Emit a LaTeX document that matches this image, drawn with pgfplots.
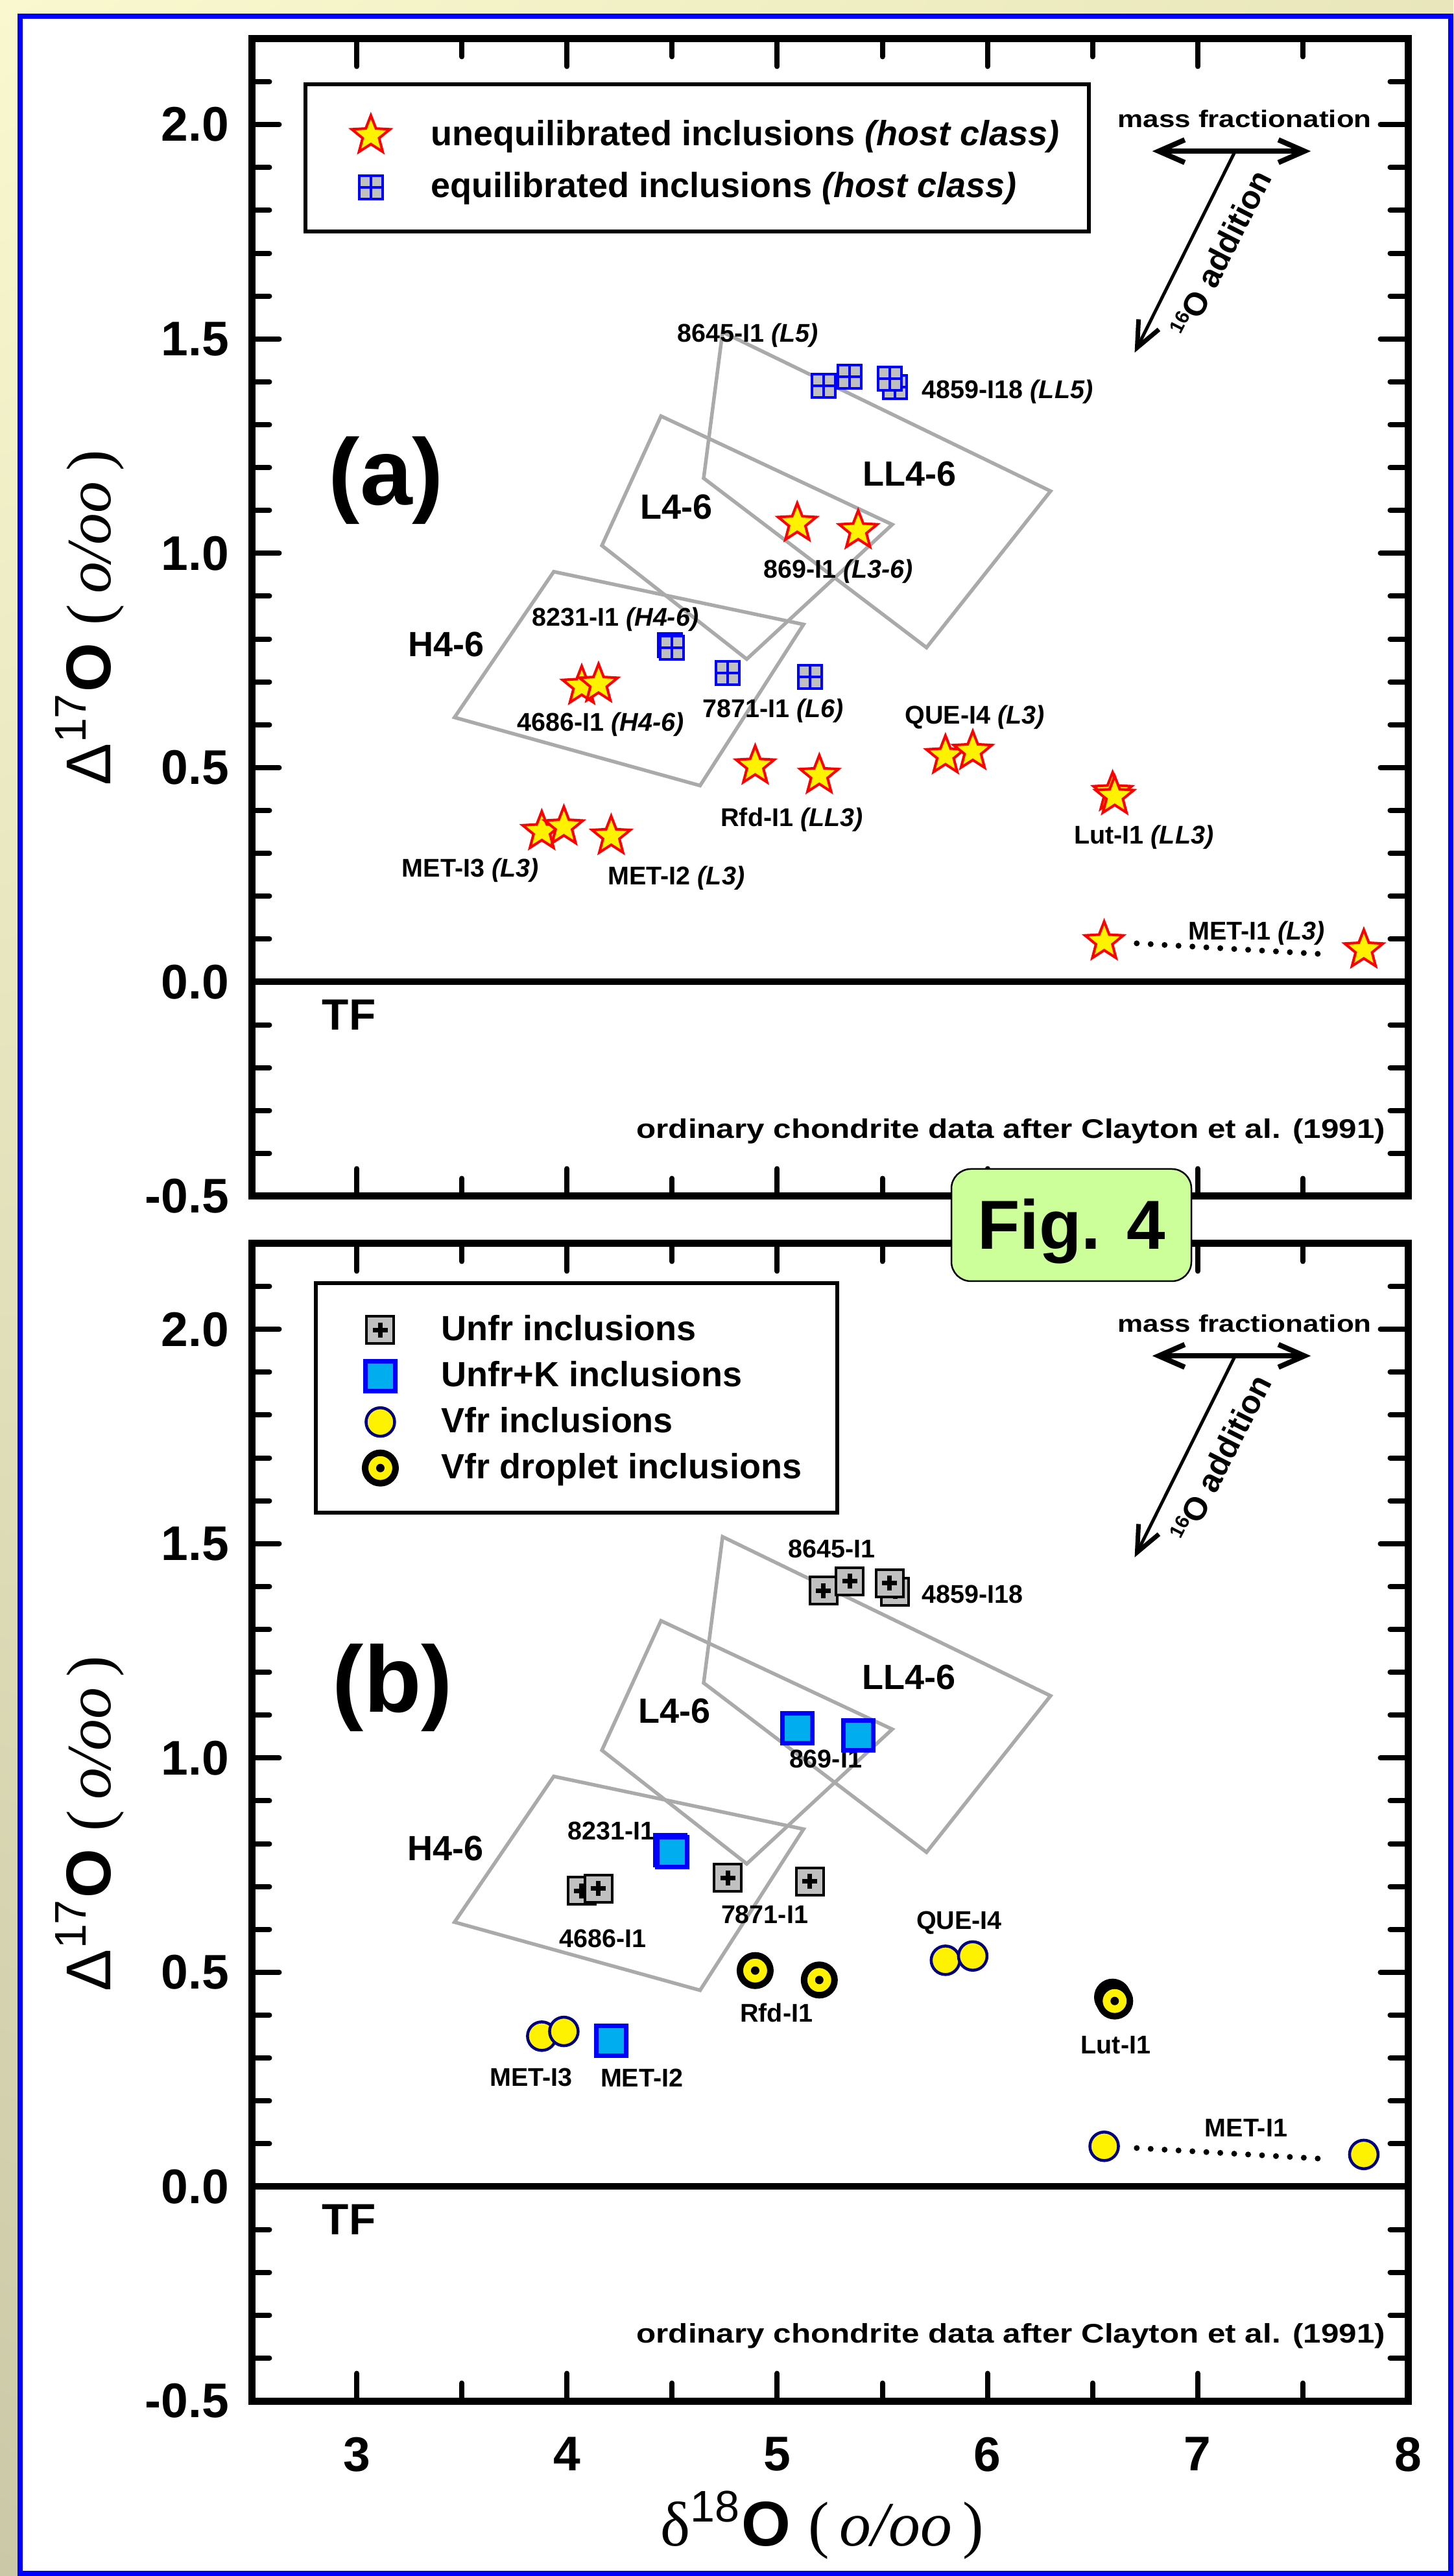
\documentclass[border=0pt]{standalone}
\usepackage{fontspec}
\setmainfont{Liberation Sans}
\newfontfamily\serif{Liberation Serif}
\usepackage{graphicx}
\usepackage{pgfplots}
\pgfplotsset{compat=1.18}
\usetikzlibrary{arrows.meta,shadings}

\definecolor{polygray}{RGB}{170,170,170}
\definecolor{markgray}{RGB}{192,192,192}
\definecolor{figgreen}{RGB}{204,255,153}
\definecolor{bgA}{RGB}{250,248,206}
\definecolor{bgB}{RGB}{232,230,186}
\definecolor{bgC}{RGB}{202,200,166}
\definecolor{bgD}{RGB}{220,218,180}
\definecolor{navyb}{RGB}{0,0,128}

\pgfdeclareplotmark{fstar}{%
  \pgfpathmoveto{\pgfpointpolar{90}{\pgfplotmarksize}}%
  \pgfpathlineto{\pgfpointscale{0.43}{\pgfpointpolar{126}{\pgfplotmarksize}}}%
  \pgfpathlineto{\pgfpointpolar{162}{\pgfplotmarksize}}%
  \pgfpathlineto{\pgfpointscale{0.43}{\pgfpointpolar{198}{\pgfplotmarksize}}}%
  \pgfpathlineto{\pgfpointpolar{234}{\pgfplotmarksize}}%
  \pgfpathlineto{\pgfpointscale{0.43}{\pgfpointpolar{270}{\pgfplotmarksize}}}%
  \pgfpathlineto{\pgfpointpolar{306}{\pgfplotmarksize}}%
  \pgfpathlineto{\pgfpointscale{0.43}{\pgfpointpolar{342}{\pgfplotmarksize}}}%
  \pgfpathlineto{\pgfpointpolar{18}{\pgfplotmarksize}}%
  \pgfpathlineto{\pgfpointscale{0.43}{\pgfpointpolar{54}{\pgfplotmarksize}}}%
  \pgfpathclose
  \pgfusepathqfillstroke
}
\pgfdeclareplotmark{eqsq}{%
  \pgfpathrectanglecorners{\pgfqpoint{-\pgfplotmarksize}{-\pgfplotmarksize}}{\pgfqpoint{\pgfplotmarksize}{\pgfplotmarksize}}%
  \pgfusepathqfillstroke
  \pgfpathmoveto{\pgfqpoint{0pt}{-\pgfplotmarksize}}%
  \pgfpathlineto{\pgfqpoint{0pt}{\pgfplotmarksize}}%
  \pgfpathmoveto{\pgfqpoint{-\pgfplotmarksize}{0pt}}%
  \pgfpathlineto{\pgfqpoint{\pgfplotmarksize}{0pt}}%
  \pgfusepathqstroke
}
\pgfdeclareplotmark{unfr}{%
  \pgfpathrectanglecorners{\pgfqpoint{-\pgfplotmarksize}{-\pgfplotmarksize}}{\pgfqpoint{\pgfplotmarksize}{\pgfplotmarksize}}%
  \pgfusepathqfillstroke
  \begin{pgfscope}%
  \pgfsetlinewidth{1.4pt}\pgfsetbuttcap
  \pgfpathmoveto{\pgfqpoint{0pt}{-2.3pt}}%
  \pgfpathlineto{\pgfqpoint{0pt}{2.3pt}}%
  \pgfpathmoveto{\pgfqpoint{-2.3pt}{0pt}}%
  \pgfpathlineto{\pgfqpoint{2.3pt}{0pt}}%
  \pgfusepathqstroke
  \end{pgfscope}%
}
\pgfdeclareplotmark{drop}{%
  \pgfpathcircle{\pgfpointorigin}{\pgfplotmarksize}%
  \pgfusepathqfillstroke
  \begin{pgfscope}%
  \pgfsetfillcolor{black}%
  \pgfpathcircle{\pgfpointorigin}{1.3pt}%
  \pgfusepathqfill
  \end{pgfscope}%
}

\tikzset{
  lbl/.style={font=\fontsize{7.9}{9}\selectfont\bfseries, inner sep=0pt, anchor=base, yshift=-2.83pt},
  lblw/.style={lbl, anchor=base west},
  big/.style={font=\fontsize{10.8}{12}\selectfont\bfseries, inner sep=0pt, anchor=base, yshift=-3.87pt},
  tf/.style={font=\fontsize{13.5}{15}\selectfont\bfseries, inner sep=0pt, anchor=base, yshift=-4.83pt},
  panlbl/.style={font=\fontsize{29}{32}\selectfont\bfseries, inner sep=0pt},
  barb/.style={line width=1.6pt, {Straight Barb[length=8pt,width=7pt]}-{Straight Barb[length=8pt,width=7pt]}},
  sbarb/.style={line width=1pt, -{Straight Barb[length=8pt,width=7pt,line width=1.4pt]}},
}

\pgfplotsset{
  panel/.style={
    scale only axis, width=356.6pt, height=357pt, anchor=south west,
    xmin=2.5, xmax=8, ymin=-0.5, ymax=2.2,
    xtick={3,4,5,6,7,8}, minor xtick={3.5,4.5,5.5,6.5,7.5},
    ytick={-0.5,0,0.5,1,1.5,2},
    minor ytick={-0.4,-0.3,-0.2,-0.1,0.1,0.2,0.3,0.4,0.6,0.7,0.8,0.9,1.1,1.2,1.3,1.4,1.6,1.7,1.8,1.9,2.1},
    tick align=inside, major tick length=8.5pt, minor tick length=5.5pt,
    every tick/.style={black, line width=1.6pt, line cap=round},
    axis line style={line width=2.2pt},
    /pgf/number format/assume math mode=true,
    tick label style={font=\fontsize{15}{18}\selectfont\bfseries},
    yticklabel style={/pgf/number format/fixed, /pgf/number format/fixed zerofill, /pgf/number format/precision=1, xshift=-3.5pt},
    legend cell align=left,
    clip=false,
  },
}

\newcommand{\ylab}{\fontsize{19.5}{22}\selectfont Δ\textsuperscript{17}\textbf{O} {\serif(\,\textit{o/oo}\,)}}
\newcommand{\xlab}{\fontsize{19.5}{22}\selectfont {\serif δ}\textsuperscript{18}\textbf{O} {\serif(\,\textit{o/oo}\,)}}
\newcommand{\sixteen}{{\fontsize{6}{7}\selectfont\raisebox{3.2pt}{16}}{\fontsize{10}{11}\selectfont O} addition}

\begin{document}
\begin{tikzpicture}
\shade[upper left=bgA, upper right=bgB, lower left=bgC, lower right=bgD] (0,0) rectangle (448.2pt,794.6pt);
\draw[blue, line width=1.6pt, fill=white] (6.2pt,0.8pt) rectangle (447.4pt,789.6pt);

% ---------------- panel (a)
\begin{axis}[panel, at={(77.6pt,425.6pt)}, xticklabels={},
  legend style={draw=none, fill=none, at={(0.0745,0.9367)}, anchor=north west,
    inner xsep=0pt, inner ysep=0pt, row sep=2pt, column sep=8.6pt,
    font=\fontsize{10.8}{13}\selectfont\bfseries, nodes={inner sep=0pt}},
  legend image code/.code={\path[draw=none, fill=none] (-10pt,-7pt) rectangle (10pt,7pt); \draw[#1] plot coordinates {(0pt,0pt)};},
]
\draw[line width=1.2pt, fill=white] (axis cs:2.756,2.094) rectangle (axis cs:6.482,1.751);
\addplot[polygray, line width=1.1pt, forget plot] coordinates {(4.74,1.516) (6.30,1.145) (5.71,0.78) (4.65,1.175)} -- cycle;
\addplot[polygray, line width=1.1pt, forget plot] coordinates {(4.447,1.32) (5.547,1.067) (4.855,0.753) (4.166,1.018)} -- cycle;
\addplot[polygray, line width=1.1pt, forget plot] coordinates {(3.465,0.617) (3.937,0.957) (5.125,0.834) (4.633,0.458)} -- cycle;
\addplot[black, line width=2pt, forget plot] coordinates {(2.5,0) (8,0)};
\addplot[black, line width=1.8pt, line cap=round, dash pattern=on 0pt off 4.3pt, forget plot] coordinates {(6.71,0.09) (7.59,0.065)};

\addplot[only marks, mark=fstar, mark size=6.2pt, mark options={fill=yellow, draw=red, line width=0.8pt}] coordinates {
 (4.07,0.69) (4.15,0.695) (5.095,1.07) (5.385,1.053) (4.895,0.504) (5.20,0.482)
 (5.80,0.528) (5.93,0.538) (6.595,0.442) (6.605,0.433) (3.88,0.351) (3.985,0.362)
 (4.21,0.34) (6.555,0.094) (7.79,0.075)};
\addlegendentry{unequilibrated inclusions \textit{(host class)}}
\addplot[only marks, mark=eqsq, mark size=3.6pt, mark options={fill=markgray, draw=blue, line width=0.8pt}] coordinates {
 (5.22,1.39) (5.345,1.412) (5.56,1.388) (5.535,1.408) (4.49,0.785) (4.50,0.78) (4.765,0.72) (5.155,0.712)};
\addlegendentry{equilibrated inclusions \textit{(host class)}}

\node[lbl] at (axis cs:4.86,1.514) {8645-I1 \textit{(L5)}};
\node[lblw] at (axis cs:5.686,1.383) {4859-I18 \textit{(LL5)}};
\node[lbl] at (axis cs:5.29,0.964) {869-I1 \textit{(L3-6)}};
\node[lbl] at (axis cs:4.23,0.851) {8231-I1 \textit{(H4-6)}};
\node[lbl] at (axis cs:4.16,0.606) {4686-I1 \textit{(H4-6)}};
\node[lbl] at (axis cs:4.98,0.638) {7871-I1 \textit{(L6)}};
\node[lbl] at (axis cs:5.94,0.623) {QUE-I4 \textit{(L3)}};
\node[lbl] at (axis cs:5.07,0.385) {Rfd-I1 \textit{(LL3)}};
\node[lbl] at (axis cs:6.744,0.343) {Lut-I1 \textit{(LL3)}};
\node[lbl] at (axis cs:3.54,0.267) {MET-I3 \textit{(L3)}};
\node[lbl] at (axis cs:4.52,0.248) {MET-I2 \textit{(L3)}};
\node[lbl] at (axis cs:7.28,0.119) {MET-I1 \textit{(L3)}};
\node[big] at (axis cs:3.425,0.789) {H4-6};
\node[big] at (axis cs:4.52,1.109) {L4-6};
\node[big] at (axis cs:5.63,1.186) {LL4-6};
\node[tf] at (axis cs:2.963,-0.076) {TF};
\node[panlbl] at (axis cs:3.14,1.17) {(a)};
\node[inner sep=0pt, anchor=base east, yshift=-2.97pt, font=\fontsize{8.3}{10}\selectfont\bfseries] at (axis cs:7.895,-0.342) {\scalebox{1.19}[1]{ordinary chondrite data after Clayton et al. (1991)}};
\node[inner sep=0pt, anchor=base, yshift=-2.65pt, font=\fontsize{7.4}{9}\selectfont\bfseries] at (axis cs:7.223,2.013) {\scalebox{1.19}[1]{mass fractionation}};
\draw[barb] (axis cs:6.784,1.938) -- (axis cs:7.538,1.938);
\draw[sbarb] (axis cs:7.178,1.938) -- (axis cs:6.70,1.468);
\node[rotate=63, inner sep=0pt, font=\bfseries] at (axis cs:7.11,1.70) {\sixteen};
\end{axis}

% ---------------- panel (b)
\begin{axis}[panel, at={(77.6pt,54pt)},
  xticklabel style={yshift=-7.7pt},
  legend style={draw=none, fill=none, at={(0.0827,0.9433)}, anchor=north west,
    inner xsep=0pt, inner ysep=0pt, row sep=1.8pt, column sep=8.9pt,
    font=\fontsize{10.8}{13}\selectfont\bfseries, nodes={inner sep=0pt}},
  legend image code/.code={\path[draw=none, fill=none] (-10pt,-6.2pt) rectangle (10pt,6.2pt); \draw[#1] plot coordinates {(0pt,0pt)};},
]
\draw[line width=1.2pt, fill=white] (axis cs:2.804,2.108) rectangle (axis cs:5.284,1.572);
\addplot[polygray, line width=1.1pt, forget plot] coordinates {(4.74,1.516) (6.30,1.145) (5.71,0.78) (4.65,1.175)} -- cycle;
\addplot[polygray, line width=1.1pt, forget plot] coordinates {(4.447,1.32) (5.547,1.067) (4.855,0.753) (4.166,1.018)} -- cycle;
\addplot[polygray, line width=1.1pt, forget plot] coordinates {(3.465,0.617) (3.937,0.957) (5.125,0.834) (4.633,0.458)} -- cycle;
\addplot[black, line width=2pt, forget plot] coordinates {(2.5,0) (8,0)};
\addplot[black, line width=1.8pt, line cap=round, dash pattern=on 0pt off 4.3pt, forget plot] coordinates {(6.71,0.09) (7.59,0.065)};

\addplot[only marks, mark=unfr, mark size=4.2pt, mark options={fill=markgray, draw=black, line width=0.8pt}] coordinates {
 (5.22,1.39) (5.345,1.412) (5.56,1.388) (5.535,1.408) (4.07,0.69) (4.15,0.695) (4.765,0.72) (5.155,0.712)};
\addlegendentry{Unfr inclusions}
\addplot[only marks, mark=square*, mark size=4.6pt, mark options={fill=cyan, draw=blue, line width=1.4pt}] coordinates {
 (5.095,1.07) (5.385,1.053) (4.49,0.785) (4.50,0.78) (4.21,0.34)};
\addlegendentry{Unfr+K inclusions}
\addplot[only marks, mark=*, mark size=4.4pt, mark options={fill=yellow, draw=navyb, line width=0.9pt}] coordinates {
 (5.80,0.528) (5.93,0.538) (3.88,0.351) (3.985,0.362) (6.555,0.094) (7.79,0.075)};
\addlegendentry{Vfr inclusions}
\addplot[only marks, mark=drop, mark size=4.7pt, mark options={fill=yellow, draw=black, line width=2pt}] coordinates {
 (4.895,0.504) (5.20,0.482) (6.595,0.442) (6.605,0.433)};
\addlegendentry{Vfr droplet inclusions}

\node[lbl] at (axis cs:5.26,1.489) {8645-I1};
\node[lblw] at (axis cs:5.686,1.382) {4859-I18};
\node[lbl] at (axis cs:5.23,0.998) {869-I1};
\node[lbl] at (axis cs:4.21,0.830) {8231-I1};
\node[lbl] at (axis cs:4.17,0.579) {4686-I1};
\node[lbl] at (axis cs:4.94,0.636) {7871-I1};
\node[lbl] at (axis cs:5.865,0.622) {QUE-I4};
\node[lbl] at (axis cs:4.996,0.405) {Rfd-I1};
\node[lbl] at (axis cs:6.61,0.331) {Lut-I1};
\node[lbl] at (axis cs:3.83,0.256) {MET-I3};
\node[lbl] at (axis cs:4.356,0.254) {MET-I2};
\node[lbl] at (axis cs:7.23,0.138) {MET-I1};
\node[big] at (axis cs:3.423,0.79) {H4-6};
\node[big] at (axis cs:4.51,1.11) {L4-6};
\node[big] at (axis cs:5.625,1.189) {LL4-6};
\node[tf] at (axis cs:2.963,-0.076) {TF};
\node[panlbl] at (axis cs:3.171,1.164) {(b)};
\node[inner sep=0pt, anchor=base east, yshift=-2.97pt, font=\fontsize{8.3}{10}\selectfont\bfseries] at (axis cs:7.895,-0.342) {\scalebox{1.19}[1]{ordinary chondrite data after Clayton et al. (1991)}};
\node[inner sep=0pt, anchor=base, yshift=-2.65pt, font=\fontsize{7.4}{9}\selectfont\bfseries] at (axis cs:7.223,2.013) {\scalebox{1.19}[1]{mass fractionation}};
\draw[barb] (axis cs:6.784,1.938) -- (axis cs:7.538,1.938);
\draw[sbarb] (axis cs:7.178,1.938) -- (axis cs:6.70,1.468);
\node[rotate=63, inner sep=0pt, font=\bfseries] at (axis cs:7.11,1.70) {\sixteen};
\end{axis}

\node[rotate=90, anchor=base, inner sep=0pt] at (34pt,604.1pt) {\ylab};
\node[rotate=90, anchor=base, inner sep=0pt] at (34pt,232.1pt) {\ylab};
\node[anchor=base, inner sep=0pt] at (253.6pt,9.2pt) {\xlab};

\draw[fill=figgreen, rounded corners=6pt, line width=0.5pt] (293.4pt,399.4pt) rectangle (367.4pt,434pt);
\node[anchor=base, inner sep=0pt, font=\fontsize{21.4}{24}\selectfont\bfseries] at (330.4pt,409.2pt) {Fig. 4};

\pgfresetboundingbox
\path[use as bounding box] (0,0) rectangle (448.2pt,794.6pt);
\end{tikzpicture}
\end{document}
